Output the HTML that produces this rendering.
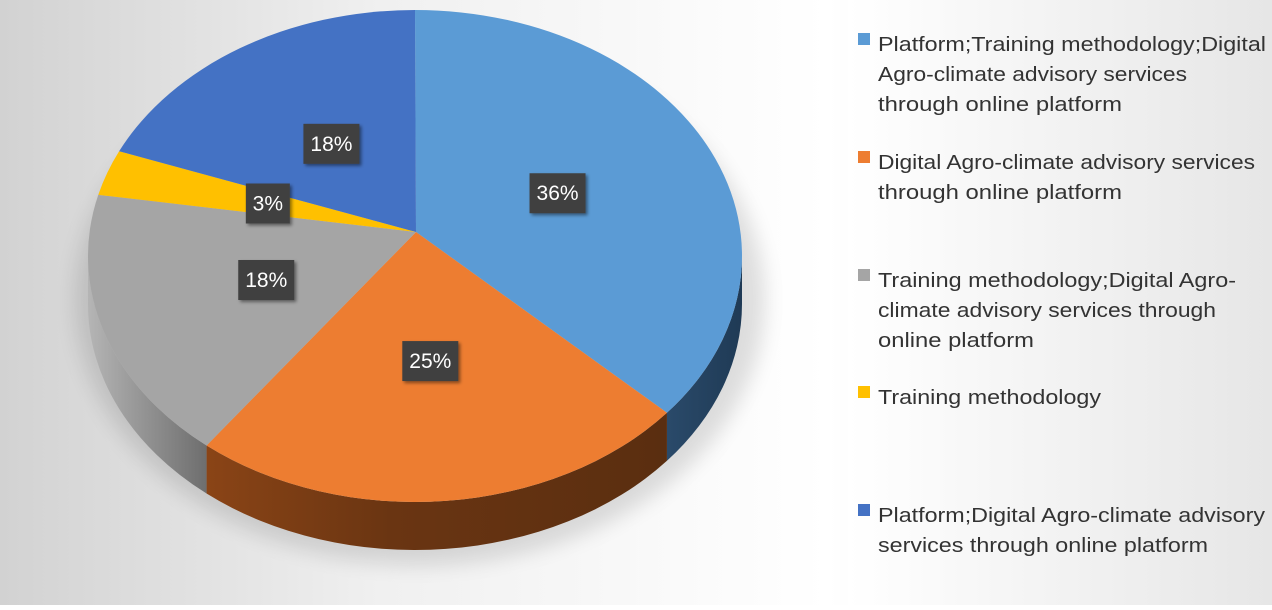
<!DOCTYPE html>
<html><head><meta charset="utf-8"><style>
html,body{margin:0;padding:0;}
body{width:1272px;height:605px;overflow:hidden;font-family:"Liberation Sans",sans-serif;}
</style></head><body>
<svg id="chart" width="1272" height="605" viewBox="0 0 1272 605" xmlns="http://www.w3.org/2000/svg">
<defs>
<linearGradient id="bg" x1="0" y1="0" x2="1" y2="0">
<stop offset="0" stop-color="#d2d2d2"/><stop offset="0.3" stop-color="#f0f0f0"/><stop offset="0.65" stop-color="#ffffff"/><stop offset="1" stop-color="#e4e4e4"/>
</linearGradient>
<linearGradient id="lg" x1="0" y1="0" x2="1" y2="0">
<stop offset="0" stop-color="#ffffff"/><stop offset="1" stop-color="#e6e6e6"/>
</linearGradient>
<linearGradient id="sideOrange" x1="0" y1="0" x2="1" y2="0">
<stop offset="0" stop-color="#8a4416"/><stop offset="0.4" stop-color="#6a3512"/><stop offset="1" stop-color="#5a2e10"/>
</linearGradient>
<linearGradient id="sideGray" x1="0" y1="0" x2="1" y2="0">
<stop offset="0" stop-color="#b5b5b5"/><stop offset="1" stop-color="#6e6e6e"/>
</linearGradient>
<linearGradient id="sideBlue" x1="0" y1="0" x2="1" y2="0">
<stop offset="0" stop-color="#2a4a6a"/><stop offset="1" stop-color="#1f3a55"/>
</linearGradient>
<filter id="sh" x="-20%" y="-20%" width="140%" height="140%"><feGaussianBlur stdDeviation="10"/></filter>
<filter id="bs" x="-30%" y="-30%" width="160%" height="160%"><feDropShadow dx="2" dy="2" stdDeviation="1.5" flood-color="#000" flood-opacity="0.45"/></filter>
</defs>
<rect x="0" y="0" width="1272" height="605" fill="url(#bg)"/>
<rect x="848" y="0" width="424" height="605" fill="url(#lg)"/>
<ellipse cx="420" cy="300" rx="345" ry="265" fill="#000" opacity="0.12" filter="url(#sh)"/>
<g id="sides"></g>
<g id="tops"></g>
<g id="labels"></g>
<g id="legend" font-family="'Liberation Sans',sans-serif" font-size="20" fill="#333"></g>
</svg>
<script>
const categories = ["Platform;Training methodology;Digital Agro-climate advisory services through online platform","Digital Agro-climate advisory services through online platform","Training methodology;Digital Agro-climate advisory services through online platform","Training methodology","Platform;Digital Agro-climate advisory services through online platform"];
const values = [36, 25, 18, 3, 18];
const valueLabels = ["36%","25%","18%","3%","18%"];
const colors = ["#5b9bd5","#ed7d31","#a5a5a5","#ffc000","#4472c4"];
const sideFills = ["url(#sideBlue)","url(#sideOrange)","url(#sideGray)","#a08000","#2f528f"];
const legendLines = [
 ["Platform;Training methodology;Digital","Agro-climate advisory services","through online platform"],
 ["Digital Agro-climate advisory services","through online platform"],
 ["Training methodology;Digital Agro-","climate advisory services through","online platform"],
 ["Training methodology"],
 ["Platform;Digital Agro-climate advisory","services through online platform"]
];
const legendWidths=[[388,309,244],[377,244],[358,338,156],[223],[387,330]];
const legendY=[45,163,281,398,516];
const NS="http://www.w3.org/2000/svg";
const cx=415, ecy=256, rx=327, ry=246, depth=48, px=416, py=232;
function pt(deg,dy){const r=deg*Math.PI/180;return [cx+rx*Math.sin(r), ecy-ry*Math.cos(r)+(dy||0)];}
function mk(tag,attrs,parent){const e=document.createElementNS(NS,tag);for(const k in attrs)e.setAttribute(k,attrs[k]);parent.appendChild(e);return e;}
const total=values.reduce((a,b)=>a+b,0);
const sides=document.getElementById('sides'),tops=document.getElementById('tops'),labels=document.getElementById('labels'),legend=document.getElementById('legend');
let a=0;
values.forEach((v,i)=>{
  const a0=a, a1=a+v/total*360; a=a1;
  const s0=Math.max(a0,90), s1=Math.min(a1,270);
  if(s1>s0){
    const p0=pt(s0),p1=pt(s1),q1=pt(s1,depth),q0=pt(s0,depth);
    const side=mk('path',{d:`M${p0[0]},${p0[1]} A${rx},${ry} 0 0 1 ${p1[0]},${p1[1]} L${q1[0]},${q1[1]} A${rx},${ry} 0 0 0 ${q0[0]},${q0[1]} Z`,fill:sideFills[i]},sides);
    
    
  }
  const p0=pt(a0),p1=pt(a1);
  const large=(a1-a0)>180?1:0;
  const top=mk('path',{d:`M${px},${py} L${p0[0]},${p0[1]} A${rx},${ry} 0 ${large} 1 ${p1[0]},${p1[1]} Z`,fill:colors[i]},tops);
  
  
  const mid=(a0+a1)/2, rim=pt(mid), f=0.48;
  const lx=px+(rim[0]-px)*f, ly=py+(rim[1]-py)*f;
  const w=valueLabels[i].length>2?56:44;
  const g=mk('g',{},labels);
  
  
  mk('rect',{x:lx-w/2,y:ly-20,width:w,height:40,fill:'#404040',filter:'url(#bs)'},g);
  const t=mk('text',{x:lx,y:ly+7,'text-anchor':'middle','font-size':21,fill:'#fff','font-family':"'Liberation Sans',sans-serif"},g);
  t.textContent=valueLabels[i];
});
legendLines.forEach((lines,i)=>{
  const g=mk('g',{},legend);
  
  
  const y=legendY[i];
  mk('rect',{x:858,y:y-12,width:12,height:12,fill:colors[i]},g);
  lines.forEach((ln,j)=>{
    const t=mk('text',{x:878,y:y+6+j*30,textLength:legendWidths[i][j],lengthAdjust:'spacingAndGlyphs'},g);
    t.textContent=ln;
  });
});
</script>
</body></html>
